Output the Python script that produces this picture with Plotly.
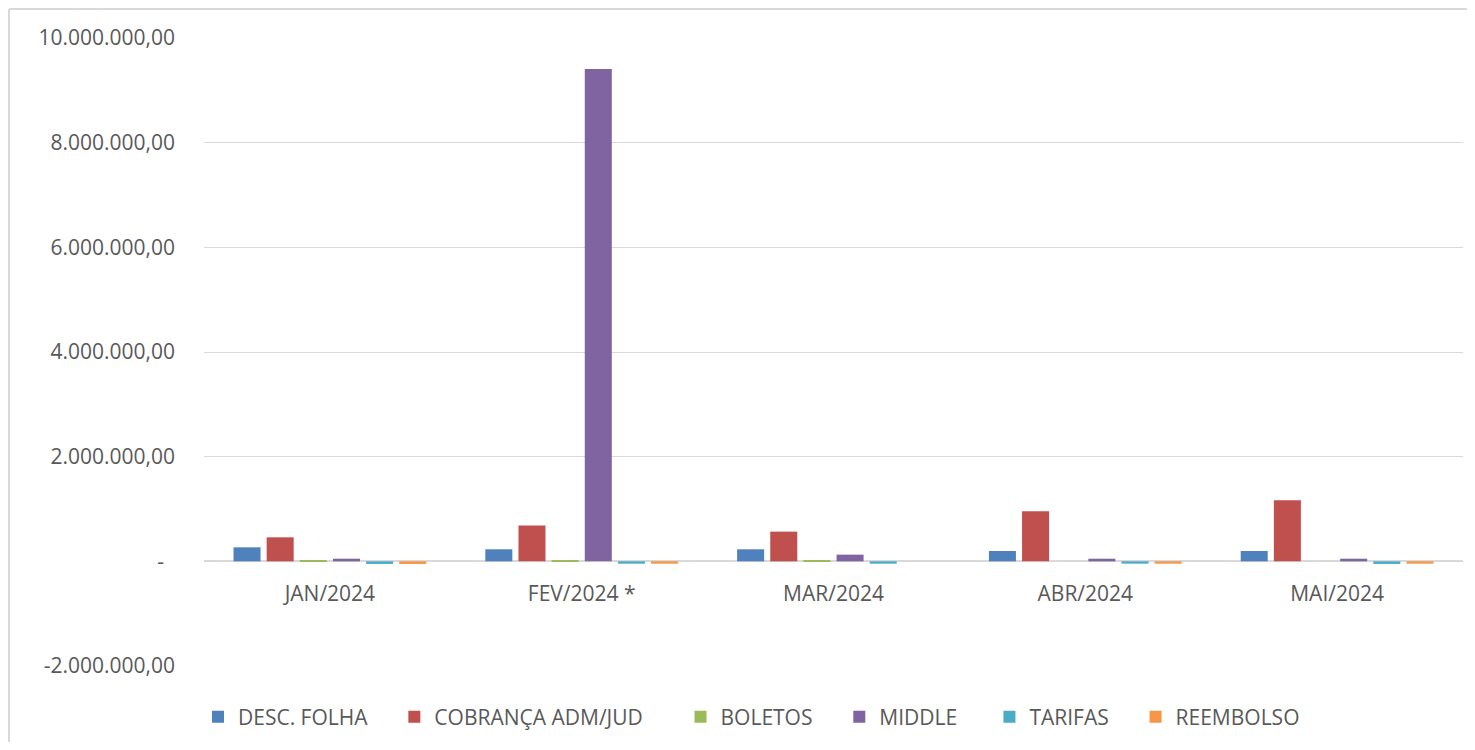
import plotly.graph_objects as go

months = ["JAN/2024", "FEV/2024 *", "MAR/2024", "ABR/2024", "MAI/2024"]
desc_folha = [268000, 230000, 230000, 197000, 197000]
cobranca = [459000, 683000, 568000, 956000, 1166000]
boletos = [20000, 20000, 20000, 0, 0]
middle = [50000, 9410000, 128000, 50000, 50000]
tarifas = [-50000, -45000, -45000, -45000, -50000]
reembolso = [-50000, -45000, 0, -45000, -45000]

series_names = ["DESC. FOLHA", "COBRANÇA ADM/JUD", "BOLETOS", "MIDDLE", "TARIFAS", "REEMBOLSO"]
series_values = [desc_folha, cobranca, boletos, middle, tarifas, reembolso]
colors = ["#4F81BD", "#C0504D", "#9BBB59", "#8064A2", "#4BACC6", "#F79646"]
legend_pads = [4, 6, 4, 5, 4, 4]

y_tickvals = [-2000000, 0, 2000000, 4000000, 6000000, 8000000, 10000000]
y_ticktext = ["-2.000.000,00", "-\u00a0\u00a0", "2.000.000,00", "4.000.000,00",
              "6.000.000,00", "8.000.000,00", "10.000.000,00"]

FONT = "Open Sans"
TXT = "#595959"

fig = go.Figure()
for name, vals, col, p in zip(series_names, series_values, colors, legend_pads):
    fig.add_trace(go.Bar(
        x=months, y=vals, name=name + "\u00a0" * p,
        marker=dict(color=col, line=dict(width=0)),
    ))

# the page body has an 8px margin, so figure pixels = screen pixels - 8
OFF = 8
W, H = 1475 - 2 * OFF, 750 - 2 * OFF
L, R, T = 204 - OFF, W - (1463 - OFF), 38 - OFF
B = H - (666 - OFF)
pw = W - L - R
ph = H - T - B

def px_x(p):
    return (p - OFF - L) / pw

def px_y(p):
    return (H - B - (p - OFF)) / ph

# chart-area border (left and top edges; the card runs off the right/bottom)
fig.add_shape(type="line", xref="paper", yref="paper",
              x0=px_x(9), x1=px_x(9), y0=px_y(760), y1=px_y(9),
              line=dict(color="#D9D9D9", width=2), layer="below")
fig.add_shape(type="line", xref="paper", yref="paper",
              x0=px_x(9), x1=px_x(1490), y0=px_y(9), y1=px_y(9),
              line=dict(color="#D9D9D9", width=2), layer="below")

fig.update_layout(
    width=W, height=H,
    margin=dict(l=L, r=R, t=T, b=B, autoexpand=False),
    paper_bgcolor="white",
    plot_bgcolor="white",
    barmode="group",
    bargap=0.21,
    bargroupgap=0.185,
    font=dict(family=FONT, size=21, color=TXT),
    showlegend=True,
    legend=dict(orientation="h", x=px_x(198), xanchor="left",
                y=px_y(717), yanchor="middle",
                font=dict(family=FONT, size=21, color=TXT),
                bgcolor="rgba(0,0,0,0)", itemclick=False),
    xaxis=dict(type="category", range=[-0.5, 4.5], showgrid=False,
               showline=False, ticks="", anchor="free",
               position=2000000 / 12000000, ticklabelstandoff=18,
               tickfont=dict(family=FONT, size=21, color=TXT)),
    yaxis=dict(range=[-2000000, 10000000], tickvals=y_tickvals, ticktext=y_ticktext,
               showgrid=True, gridcolor="#D9D9D9", gridwidth=1,
               zeroline=True, zerolinecolor="#D9D9D9", zerolinewidth=2,
               showline=False, ticks="", ticklabelstandoff=28,
               tickfont=dict(family=FONT, size=21, color=TXT)),
)

fig.write_html("out.html")
